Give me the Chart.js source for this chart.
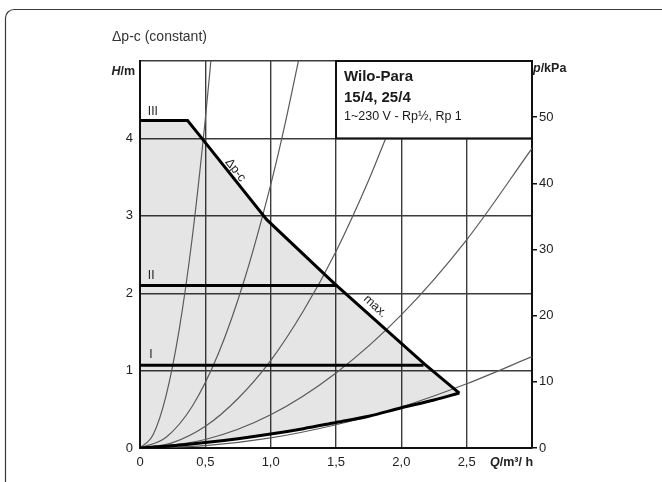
<!DOCTYPE html>
<html>
<head>
<meta charset="utf-8">
<script src="https://cdn.jsdelivr.net/npm/chart.js@4.4.0/dist/chart.umd.min.js"></script>
<style>
  body { margin: 0; background: #fff; }
  canvas { display: block; }
</style>
</head>
<body>
<canvas id="pumpChart" width="662" height="482"></canvas>
<script>
// tick labels
const qTicks = ['0', '0,5', '1,0', '1,5', '2,0', '2,5']
const hTicks = ['0', '1', '2', '3', '4']
const pTicks = ['0', '10', '20', '30', '40', '50']

// Q in m³/h, H in m
// max curve (III / Δp-c)
const maxQ = [0, 0.364, 0.474, 0.97, 1.49, 2.18, 2.444]
const maxH = [4.23, 4.23, 4.0, 2.95, 2.12, 1.08, 0.71]
// lower limit curve
const minQ = [0, 0.25, 0.5, 0.75, 1.0, 1.25, 1.5, 1.75, 2.0, 2.25, 2.444]
const minH = [0, 0.03, 0.07, 0.12, 0.18, 0.25, 0.33, 0.41, 0.52, 0.62, 0.71]
// speed stages II and I
const stage2Q = [0, 1.51]
const stage2H = [2.10, 2.10]
const stage1Q = [0, 2.17]
const stage1H = [1.07, 1.07]

// system curves
const sysA_Q = [0, 0.1, 0.2, 0.3, 0.4, 0.5, 0.545]
const sysA_H = [0, 0.17, 0.68, 1.53, 2.72, 4.25, 5.05]
const sysB_Q = [0, 0.2, 0.4, 0.6, 0.8, 1.0, 1.1, 1.22]
const sysB_H = [0, 0.14, 0.54, 1.22, 2.18, 3.4, 4.11, 5.06]
const sysC_Q = [0, 0.25, 0.5, 0.75, 1.0, 1.25, 1.5, 1.75, 1.88]
const sysC_H = [0, 0.07, 0.28, 0.64, 1.13, 1.77, 2.54, 3.46, 4.0]
const sysD_Q = [0, 0.5, 1.0, 1.5, 2.0, 2.5, 3.0]
const sysD_H = [0, 0.11, 0.43, 0.97, 1.72, 2.69, 3.87]
const sysE_Q = [0, 0.5, 1.0, 1.5, 2.0, 2.5, 3.0]
const sysE_H = [0, 0.03, 0.13, 0.30, 0.53, 0.83, 1.18]

const FONT = 'Arial, "Liberation Sans", sans-serif'
const gridColor = '#3c3c3c'
const axisColor = '#111'
const textColor = '#222'

const pts = (q, h) => q.map((x, i) => ({ x, y: h[i] }))

// shaded area: along max curve, back along the lower curve
const areaPts = pts(maxQ, maxH).concat(pts(minQ, minH).reverse())

function sysCurve(q, h) {
    return {
        data: pts(q, h),
        borderColor: '#5a5a5a',
        borderWidth: 1.2,
        pointRadius: 0,
        cubicInterpolationMode: 'monotone',
        fill: false
    }
}

function thick(q, h, smooth) {
    return {
        data: pts(q, h),
        borderColor: '#000',
        borderWidth: 3,
        pointRadius: 0,
        tension: 0,
        cubicInterpolationMode: smooth ? 'monotone' : 'default',
        fill: false
    }
}

// text with an italic first letter (H/m, p/kPa, Q/m³/ h)
function richText(ctx, parts, x, y, align) {
    let w = 0
    parts.forEach(p => { ctx.font = p.f; w += ctx.measureText(p.t).width })
    let cx = align === 'right' ? x - w : x
    ctx.textAlign = 'left'
    parts.forEach(p => {
        ctx.font = p.f
        ctx.fillText(p.t, cx, y)
        cx += ctx.measureText(p.t).width
    })
}

function rotated(ctx, text, x, y, deg) {
    ctx.save()
    ctx.translate(x, y)
    ctx.rotate(deg * Math.PI / 180)
    ctx.textAlign = 'center'
    ctx.fillText(text, 0, 0)
    ctx.restore()
}

const extras = {
    id: 'extras',
    beforeDraw(chart) {
        const ctx = chart.ctx
        // outer frame, rounded top-left corner
        ctx.save()
        ctx.strokeStyle = '#3a3a3a'
        ctx.lineWidth = 1.2
        ctx.beginPath()
        ctx.moveTo(5.5, 482)
        ctx.lineTo(5.5, 18)
        ctx.arcTo(5.5, 9.5, 14, 9.5, 8.5)
        ctx.lineTo(662, 9.5)
        ctx.stroke()
        ctx.restore()
    },
    afterDatasetsDraw(chart) {
        const ctx = chart.ctx
        const x = chart.scales.x
        const y = chart.scales.y
        ctx.save()

        // header box
        const bx = x.getPixelForValue(1.5)
        const by = y.getPixelForValue(5)
        const bw = x.getPixelForValue(3) - bx
        const bh = y.getPixelForValue(4) - by
        ctx.fillStyle = '#fff'
        ctx.fillRect(bx, by, bw, bh)
        ctx.strokeStyle = axisColor
        ctx.lineWidth = 2
        ctx.strokeRect(bx, by, bw, bh)

        ctx.fillStyle = '#1a1a1a'
        ctx.textBaseline = 'middle'
        ctx.textAlign = 'left'
        ctx.font = 'bold 15px ' + FONT
        ctx.fillText('Wilo-Para', bx + 8, by + 16)
        ctx.fillText('15/4, 25/4', bx + 8, by + 37)
        ctx.font = '12.5px ' + FONT
        ctx.fillText('1~230 V - Rp½, Rp 1', bx + 8, by + 56)

        // stage labels
        ctx.font = '12px ' + FONT
        ctx.fillStyle = textColor
        ctx.fillText('III', x.getPixelForValue(0.06), y.getPixelForValue(4.23) - 9)
        ctx.fillText('II', x.getPixelForValue(0.06), y.getPixelForValue(2.10) - 10)
        ctx.fillText('I', x.getPixelForValue(0.07), y.getPixelForValue(1.07) - 10)

        // labels along the max curve
        ctx.font = '12.5px ' + FONT
        rotated(ctx, 'Δp-c', x.getPixelForValue(0.73), y.getPixelForValue(3.59), 51.5)
        rotated(ctx, 'max.', x.getPixelForValue(1.8), y.getPixelForValue(1.83), 42.5)

        // axis titles and chart title
        richText(ctx, [{ t: 'H', f: 'italic bold 12.5px ' + FONT }, { t: '/m', f: 'bold 12.5px ' + FONT }], 135, 72, 'right')
        richText(ctx, [{ t: 'p', f: 'italic bold 12.5px ' + FONT }, { t: '/kPa', f: 'bold 12.5px ' + FONT }], 533, 69, 'left')
        richText(ctx, [{ t: 'Q', f: 'italic bold 12.5px ' + FONT }, { t: '/m³/ h', f: 'bold 12.5px ' + FONT }], 490, 463, 'left')
        ctx.font = '14px ' + FONT
        ctx.fillStyle = '#333'
        ctx.fillText('Δp-c (constant)', 112, 37)
        ctx.restore()
    }
}

new Chart(document.getElementById('pumpChart'), {
    type: 'line',
    data: {
        datasets: [
            thick(maxQ, maxH, false),
            thick(minQ, minH, true),
            thick(stage2Q, stage2H, false),
            thick(stage1Q, stage1H, false),
            sysCurve(sysA_Q, sysA_H),
            sysCurve(sysB_Q, sysB_H),
            sysCurve(sysC_Q, sysC_H),
            sysCurve(sysD_Q, sysD_H),
            sysCurve(sysE_Q, sysE_H),
            {
                data: areaPts,
                borderWidth: 0,
                pointRadius: 0,
                tension: 0,
                backgroundColor: 'rgba(0,0,0,0.1)',
                fill: 'shape'
            }
        ]
    },
    options: {
        responsive: false,
        animation: false,
        layout: { padding: { top: 61 } },
        plugins: {
            legend: { display: false },
            tooltip: { enabled: false },
            title: { display: false }
        },
        scales: {
            x: {
                type: 'linear',
                min: 0,
                max: 3,
                ticks: {
                    stepSize: 0.5,
                    callback: v => qTicks[Math.round(v * 2)] ?? '',
                    font: { family: FONT, size: 13 },
                    color: textColor,
                    padding: 7,
                    maxRotation: 0
                },
                grid: { color: gridColor, lineWidth: 1.4, drawTicks: false },
                border: { color: axisColor, width: 2 },
                afterFit: s => { s.height = 34 }
            },
            y: {
                min: 0,
                max: 5,
                ticks: {
                    stepSize: 1,
                    callback: v => hTicks[v] ?? '',
                    font: { family: FONT, size: 13 },
                    color: textColor,
                    padding: 7
                },
                grid: { color: gridColor, lineWidth: 1.4, drawTicks: false },
                border: { color: axisColor, width: 2 },
                afterFit: s => { s.width = 140 }
            },
            y2: {
                position: 'right',
                min: 0,
                max: 58.5,
                ticks: {
                    stepSize: 10,
                    includeBounds: false,
                    callback: v => pTicks[v / 10] ?? '',
                    font: { family: FONT, size: 13 },
                    color: textColor,
                    padding: 2
                },
                grid: { drawOnChartArea: false, drawTicks: true, tickLength: 5, color: axisColor, lineWidth: 1.5 },
                border: { color: axisColor, width: 2 },
                afterFit: s => { s.width = 130 }
            }
        }
    },
    plugins: [extras]
})
</script>
</body>
</html>
